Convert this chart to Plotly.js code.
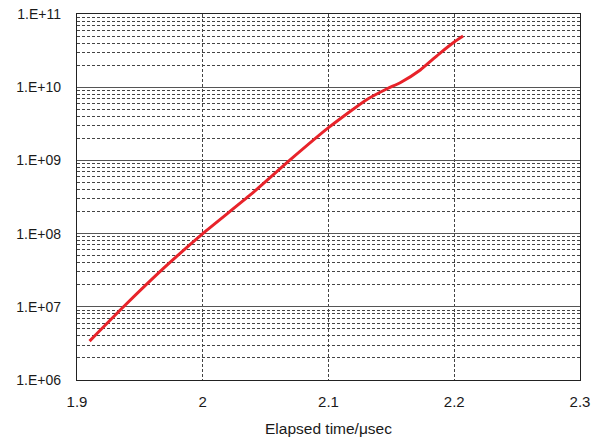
<!DOCTYPE html>
<html>
<head>
<meta charset="utf-8">
<script src="https://cdn.plot.ly/plotly-3.0.1.min.js"></script>
<style>
  html, body { margin: 0; padding: 0; background: #fff; }
  #chart { width: 600px; height: 442px; }
</style>
</head>
<body>
<div id="chart"></div>
<script>
// Elapsed time (microseconds) and the growing quantity on a log scale
const elapsedTime = [1.910, 1.937, 1.970, 2.000, 2.038, 2.069, 2.100, 2.130, 2.147, 2.157, 2.173, 2.189, 2.200, 2.207];
const growthValue = [3.4e6, 1.0e7, 3.5e7, 1.0e8, 3.4e8, 1.0e9, 2.8e9, 6.7e9, 9.6e9, 1.15e10, 1.72e10, 2.95e10, 4.15e10, 5.0e10];

// Axis ticks
const xTickValues = [1.9, 2.0, 2.1, 2.2, 2.3];
const xTickLabels = ["1.9", "2", "2.1", "2.2", "2.3"];
const yTickValues = [1e6, 1e7, 1e8, 1e9, 1e10, 1e11];
const yTickLabels = ["1.E+06", "1.E+07", "1.E+08", "1.E+09", "1.E+10", "1.E+11"];

// Minor gridlines at 2..9 x 10^k within each decade
const yMinorValues = [];
for (let k = 6; k < 11; k++) {
  for (let d = 2; d <= 9; d++) yMinorValues.push(d * Math.pow(10, k));
}

const font = { family: "Arial, 'Liberation Sans', sans-serif", color: "#1a1a1a" };

const trace = {
  x: elapsedTime,
  y: growthValue,
  type: "scatter",
  mode: "lines",
  line: { color: "#e8232a", width: 3, shape: "spline", smoothing: 0.5 },
  hoverinfo: "skip"
};

const layout = {
  width: 600,
  height: 442,
  margin: { l: 77, r: 20, t: 14, b: 62 },
  paper_bgcolor: "#ffffff",
  plot_bgcolor: "#ffffff",
  showlegend: false,
  font: font,
  xaxis: {
    range: [1.9, 2.3],
    tickvals: xTickValues,
    ticktext: xTickLabels,
    tickfont: { size: 15, family: font.family, color: font.color },
    ticks: "",
    showgrid: true,
    gridcolor: "#444",
    gridwidth: 1,
    griddash: "3px,2px",
    showline: true,
    linecolor: "#222",
    linewidth: 1.2,
    mirror: true,
    zeroline: false,
    ticklabelstandoff: 8,
    title: { text: "Elapsed time/\u03bcsec", font: { size: 15.5, family: font.family, color: font.color }, standoff: 14 }
  },
  yaxis: {
    type: "log",
    range: [6, 11],
    tickvals: yTickValues,
    ticktext: yTickLabels,
    tickfont: { size: 14, family: font.family, color: font.color },
    ticks: "",
    showgrid: true,
    gridcolor: "#555",
    gridwidth: 1.2,
    showline: true,
    linecolor: "#222",
    linewidth: 1.2,
    mirror: true,
    zeroline: false,
    ticklabelstandoff: 12,
    minor: {
      tickvals: yMinorValues,
      showgrid: true,
      gridcolor: "#444",
      gridwidth: 1,
      griddash: "3px,2px",
      ticks: ""
    }
  }
};

Plotly.newPlot("chart", [trace], layout, { displayModeBar: false, staticPlot: true });
</script>
</body>
</html>
